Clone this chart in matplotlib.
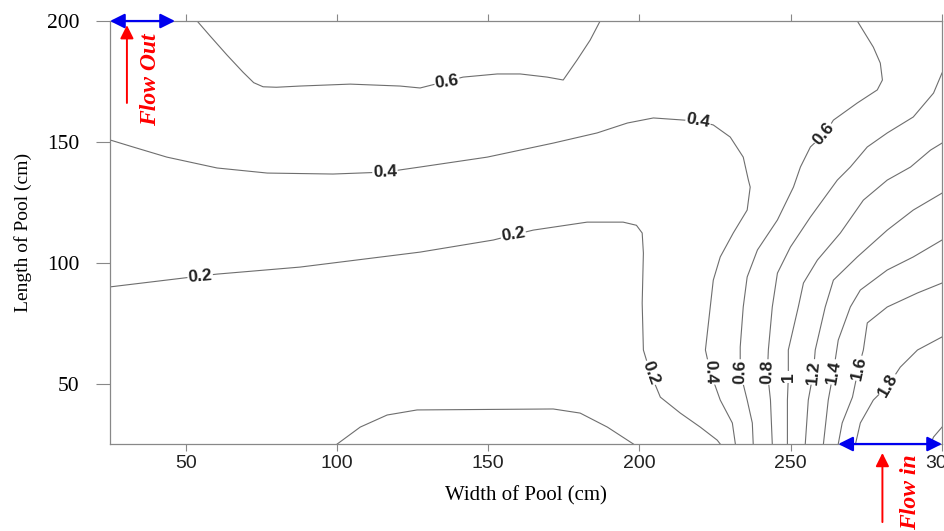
import matplotlib
matplotlib.use("Agg")
import matplotlib.pyplot as plt

# contour lines (width cm, length cm)
c06a_x = [53.8, 58.1, 63.7, 69.0, 72.5, 75.6, 80.0, 87.8, 104.4, 120.9, 127.5, 141.7, 153.0, 160.6, 169.5, 174.8, 179.4, 183.7, 187.0]
c06a_y = [200, 193.8, 185.9, 178.8, 174.5, 172.8, 172.6, 173.1, 173.9, 173.1, 172.3, 176.8, 178.1, 178.1, 176.8, 175.6, 183.9, 192.1, 200]

c04_x = [25, 32.6, 43.8, 60.4, 77.0, 98.7, 115.9, 127.5, 149.7, 171.5, 186.0, 196.0, 204.6, 219.4, 224.4, 230.0, 234.3,
         236.0, 236.6, 235.6, 231.0, 226.7, 224.4, 223.4, 221.8, 223.4, 226.7, 230.7, 231.7]
c04_y = [150.8, 147.9, 143.7, 139.2, 137.1, 136.7, 137.5, 139.6, 143.7, 149.5, 153.7, 157.8, 159.9, 158.6, 157.0, 152.0, 143.7,
         134.2, 131.3, 121.8, 112.3, 102.4, 92.8, 81.7, 63.9, 54.8, 43.2, 33.7, 25]

c02_x = [25, 54.8, 60.4, 87.8, 127.5, 151.7, 158.3, 164.9, 182.7, 194.6, 199.0, 200.9, 201.3, 200.9, 201.3, 203.6, 206.9,
         213.5, 220.1, 225.7, 226.7]
c02_y = [90.0, 94.5, 95.3, 98.2, 104.4, 109.4, 111.5, 113.5, 116.8, 116.8, 115.5, 112.3, 104.0, 83.3, 63.9, 54.4, 44.4,
         37.8, 32.0, 26.6, 25]

c02b_x = [100.1, 107.7, 116.6, 126.5, 171.5, 180.4, 189.4, 198.0]
c02b_y = [25, 32.0, 37.0, 39.1, 39.5, 37.8, 32.0, 25]

c06b_x = [272.0, 277.3, 279.6, 280.3, 278.6, 272.0, 264.1, 261.4, 256.5, 253.2, 250.9, 245.6, 239.0, 235.6, 234.3, 233.3,
          233.3, 235.6, 237.3, 237.6]
c06b_y = [200, 189.2, 182.6, 175.6, 171.5, 166.1, 159.0, 153.7, 147.9, 139.6, 131.3, 117.7, 105.3, 94.1, 81.7, 65.1,
          54.8, 43.2, 33.7, 25]

c08_x = [300, 297.2, 290.5, 281.9, 275.3, 269.7, 265.4, 256.5, 249.9, 245.6, 243.9, 242.6, 242.3, 243.3, 243.9]
c08_y = [178.5, 170.2, 160.3, 153.7, 147.9, 139.6, 134.2, 118.9, 106.5, 95.7, 81.7, 63.9, 54.8, 43.2, 25]

c10_x = [300, 296.2, 289.6, 281.9, 274.0, 266.4, 258.8, 254.2, 252.5, 249.2, 249.2, 248.9, 248.9]
c10_y = [149.5, 146.6, 139.6, 134.2, 125.9, 112.3, 101.1, 91.6, 81.7, 63.9, 52.7, 43.2, 25]

c12_x = [300, 290.5, 281.9, 272.0, 264.1, 261.4, 258.1, 257.5, 255.8, 254.8]
c12_y = [128.8, 121.8, 113.5, 102.4, 92.8, 81.7, 63.9, 54.8, 43.2, 25]

c14_x = [300, 290.5, 281.9, 273.0, 269.7, 265.7, 264.1, 262.4, 260.8]
c14_y = [109.4, 102.4, 97.0, 88.7, 81.7, 68.0, 54.8, 43.2, 25]

c16_x = [300, 291.9, 281.9, 275.3, 274.0, 272.4, 270.4, 267.0, 265.7]
c16_y = [91.6, 87.5, 81.7, 75.1, 63.9, 56.4, 44.4, 33.7, 25]

c18_x = [300, 291.9, 286.2, 282.3, 277.3, 273.0, 271.4]
c18_y = [69.3, 63.9, 56.8, 49.4, 43.2, 33.7, 25]

c20_x = [300, 297.2, 296.2]
c20_y = [32.0, 27.9, 25]

# inline contour labels
lab_text = ["0.6", "0.4", "0.4", "0.6", "0.2", "0.2", "0.2", "0.4", "0.6", "0.8", "1", "1.2", "1.4", "1.6", "1.8"]
lab_x = [136.4, 115.9, 219.4, 261.0, 54.8, 158.3, 203.6, 223.4, 233.3, 242.3, 249.2, 257.5, 264.1, 272.4, 282.3]
lab_y = [174.8, 137.5, 158.6, 153.2, 94.5, 111.5, 54.4, 54.8, 54.8, 54.8, 52.7, 54.8, 54.8, 56.4, 49.4]
lab_rot = [8, 2, -10, 50, 5, 10, -70, -88, 88, 88, 90, 85, 80, 78, 60]

x_ticks = [50, 100, 150, 200, 250, 300]
y_ticks = [50, 100, 150, 200]

lines = [(c06a_x, c06a_y), (c04_x, c04_y), (c02_x, c02_y), (c02b_x, c02b_y), (c06b_x, c06b_y),
         (c08_x, c08_y), (c10_x, c10_y), (c12_x, c12_y), (c14_x, c14_y), (c16_x, c16_y),
         (c18_x, c18_y), (c20_x, c20_y)]

fig = plt.figure(figsize=(9.44, 5.31), dpi=100)
ax = fig.add_axes([0.1165, 0.1638, 0.8814, 0.7966])

for xs, ys in lines:
    ax.plot(xs, ys, color="#6e6e6e", lw=0.8, zorder=2)

for t, x, y, r in zip(lab_text, lab_x, lab_y, lab_rot):
    ax.text(x, y, t, rotation=r, ha="center", va="center", fontsize=12.5, fontweight="bold",
            family="Liberation Sans", color="#222222", zorder=4, rotation_mode="anchor",
            bbox=dict(facecolor="white", edgecolor="none", pad=0.5))

ax.set_xlim(25, 300)
ax.set_ylim(25, 200)
ax.set_xticks(x_ticks)
ax.set_yticks(y_ticks)
ax.set_xticklabels([str(v) for v in x_ticks], family="Liberation Sans", fontsize=14, color="#222222")
ax.set_yticklabels([str(v) for v in y_ticks], family="Liberation Serif", fontsize=15.5)
ax.tick_params(axis="x", direction="out", length=5, width=0.8, color="#888888", pad=3, top=True)
ax.tick_params(axis="y", direction="out", length=10, width=0.8, color="#888888", pad=12)
for s in ax.spines.values():
    s.set_color("#888888")
    s.set_linewidth(0.9)

ax.set_xlabel("Width of Pool (cm)", family="Liberation Serif", fontsize=15, labelpad=10)
ax.set_ylabel("Length of Pool (cm)", family="Liberation Serif", fontsize=14, labelpad=11)

# flow markers
blue = dict(arrowstyle="<|-|>", color="#0000ee", lw=1.6, mutation_scale=22, shrinkA=0, shrinkB=0)
red = dict(arrowstyle="-|>", color="#ff0000", lw=1.4, mutation_scale=20, shrinkA=0, shrinkB=0)
ax.annotate("", xy=(46.5, 200), xytext=(25, 200), arrowprops=blue, annotation_clip=False, zorder=5)
ax.annotate("", xy=(300, 25), xytext=(265.7, 25), arrowprops=blue, annotation_clip=False, zorder=5)
ax.annotate("", xy=(30.6, 198.3), xytext=(30.6, 166.1), arrowprops=red, annotation_clip=False, zorder=5)
ax.annotate("", xy=(280.3, 21.3), xytext=(280.3, -7.3), arrowprops=red, annotation_clip=False, zorder=5)
ax.text(38.3, 175.6, "Flow Out", rotation=90, ha="center", va="center", color="#ff0000",
        family="Liberation Serif", fontsize=17, fontweight="bold", style="italic", clip_on=False)
ax.text(289.5, 5.0, "Flow in", rotation=90, ha="center", va="center", color="#ff0000",
        family="Liberation Serif", fontsize=17, fontweight="bold", style="italic", clip_on=False)

fig.savefig("out.png", dpi=100)
